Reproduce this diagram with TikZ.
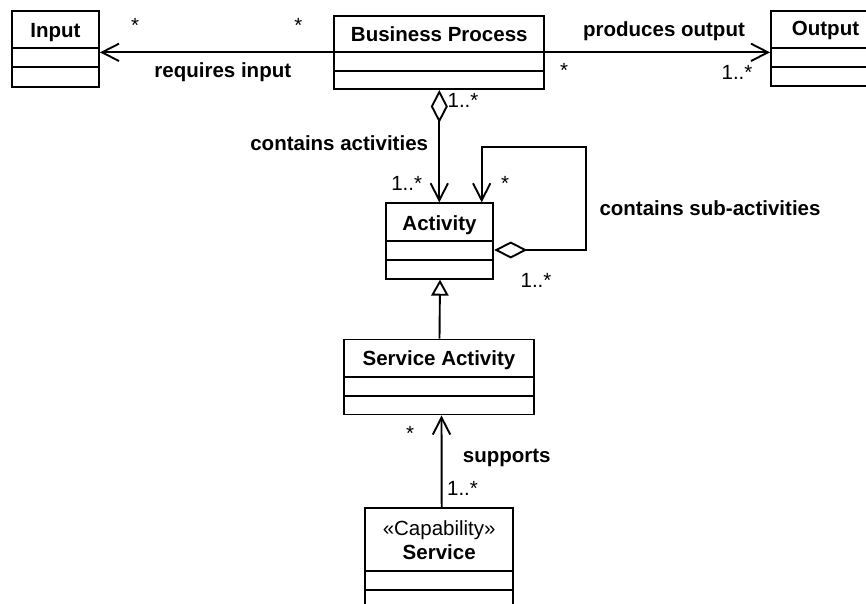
\documentclass[tikz,border=0pt]{standalone}
\usepackage{fontspec}
\setmainfont{Liberation Sans}
\usetikzlibrary{arrows.meta}
\tikzset{
  box/.style={draw, line width=1.9pt, inner sep=0pt, fill=white},
  divider/.style={line width=1.9pt},
  ttl/.style={font=\fontsize{20.5}{24}\selectfont\bfseries, anchor=base, inner sep=0pt},
  lbl/.style={font=\fontsize{20.5}{24}\selectfont\bfseries, anchor=base, inner sep=0pt},
  mult/.style={font=\fontsize{20.5}{24}\selectfont, anchor=base, inner sep=0pt},
  conn/.style={line width=1.9pt},
  assoc/.style={conn, -{Straight Barb[length=17pt, width=17.4pt]}},
  aggr/.style={conn, {Diamond[open, length=33pt, width=17pt]}-{Straight Barb[length=17pt, width=17.4pt]}},
  gen/.style={conn, -{Triangle[open, length=16pt, width=17.4pt]}},
}
\begin{document}
\begin{tikzpicture}[x=1pt, y=-1pt]
\useasboundingbox (0,0) rectangle (866,604);
\clip (0,0) rectangle (866,604);
\fill[white] (0,0) rectangle (866,604);

% boxes
\node[box, minimum width=87pt, minimum height=76pt] (input) at (55.5,49) {};
\node[box, minimum width=210pt, minimum height=73.3pt] (bp) at (439.3,52.35) {};
\node[box, minimum width=109pt, minimum height=75pt] (output) at (825.5,48.5) {};
\node[box, minimum width=107.6pt, minimum height=75.4pt] (act) at (439.5,241) {};
\node[box, minimum width=190.6pt, minimum height=75pt] (sact) at (439,377) {};
\node[box, minimum width=148.3pt, minimum height=111.7pt] (svc) at (439.2,564.2) {};

% dividers
\foreach \n/\a/\b in {input/48/67, bp/52.3/71.3, output/47.7/66.7, act/241/260, sact/376.7/396, svc/570.7/590}{
  \draw[divider] (\n.west |- 0,\a) -- (\n.east |- 0,\a);
  \draw[divider] (\n.west |- 0,\b) -- (\n.east |- 0,\b);
}

% titles
\node[ttl] (tinput) at (55.5,37.5) {Input};
\node[ttl] (tbp) at (439.3,41.5) {Business Process};
\node[ttl] (toutput) at (825.5,36) {Output};
\node[ttl] (tact) at (439.5,230) {Activity};
\node[ttl] (tsact) at (439,365) {Service Activity};
\node[mult] (tster) at (439.2,535) {«Capability»};
\node[ttl] (tsvc) at (439.2,559) {Service};

% connectors
\draw[assoc] (bp.west) -- (bp.west -| input.east);
\draw[assoc] (bp.east) -- (bp.east -| output.west);
\draw[aggr] (bp.south) -- (bp.south |- act.north);
\coordinate (loopA) at (586,250);
\coordinate (loopB) at (481.7,147);
\draw[aggr] (act.east |- loopA) -- (loopA) |- (loopB) -- (loopB |- act.north);
\draw[gen] ([xshift=0.5pt]sact.north) -- ([xshift=0.5pt]act.south);
\draw[assoc] ([xshift=2.5pt]svc.north) -- ([xshift=2.5pt]sact.south);

% labels
\node[lbl] (lreq) at (222.8,78) {requires input};
\node[mult] (m1) at (135,33) {*};
\node[mult] (m2) at (298.3,33) {*};
\node[lbl] (lprod) at (664,37) {produces output};
\node[mult] (m3) at (564,78) {*};
\node[mult] (m4) at (737,80) {1..*};
\node[mult] (m5) at (463,108) {1..*};
\node[lbl] (lcont) at (339.2,150) {contains activities};
\node[mult] (m6) at (406.7,190) {1..*};
\node[mult] (m7) at (505,190) {*};
\node[mult] (m8) at (536,287) {1..*};
\node[lbl] (lsub) at (710,215) {contains sub-activities};
\node[mult] (m9) at (410,440) {*};
\node[lbl] (lsup) at (506.7,462.5) {supports};
\node[mult] (m10) at (462.5,495) {1..*};
\end{tikzpicture}
\end{document}
